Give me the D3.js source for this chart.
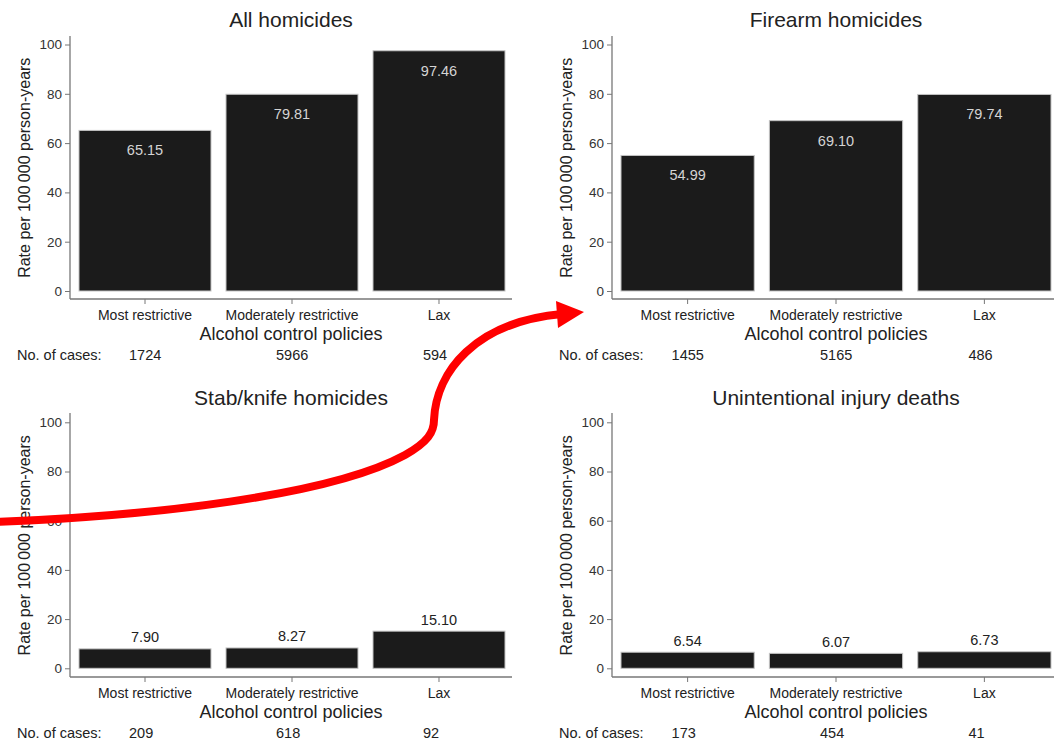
<!DOCTYPE html>
<html>
<head>
<meta charset="utf-8">
<script src="https://cdn.jsdelivr.net/npm/d3@7"></script>
<style>
  html, body { margin: 0; padding: 0; background: #fff; }
  svg { display: block; font-family: "Liberation Sans", Arial, sans-serif; }
</style>
</head>
<body>
<svg id="chart" width="1054" height="739"></svg>
<script>
// ---- data ----
const categories = ["Most restrictive", "Moderately restrictive", "Lax"];
const panelTitles = ["All homicides", "Firearm homicides", "Stab/knife homicides", "Unintentional injury deaths"];
const allHomicides = [65.15, 79.81, 97.46];
const firearmHomicides = [54.99, 69.10, 79.74];
const stabHomicides = [7.90, 8.27, 15.10];
const unintentionalDeaths = [6.54, 6.07, 6.73];
const casesAll = [1724, 5966, 594];
const casesFirearm = [1455, 5165, 486];
const casesStab = [209, 618, 92];
const casesUnintentional = [173, 454, 41];
const yTicks = [0, 20, 40, 60, 80, 100];
const yLabel = "Rate per 100\u2009000 person-years";
const xLabel = "Alcohol control policies";
const casesLabel = "No. of cases:";

const panels = [
  { title: panelTitles[0], values: allHomicides, cases: casesAll, col: 0, row: 0 },
  { title: panelTitles[1], values: firearmHomicides, cases: casesFirearm, col: 1, row: 0 },
  { title: panelTitles[2], values: stabHomicides, cases: casesStab, col: 0, row: 1 },
  { title: panelTitles[3], values: unintentionalDeaths, cases: casesUnintentional, col: 1, row: 1 }
];

// ---- layout ----
const colLayout = [
  { x0: 70, bandStart: 79, bandEnd: 505, axisEnd: 512 },
  { x0: 612, bandStart: 621, bandEnd: 1051, axisEnd: 1060 }
];
const rowLayout = [
  { yZero: 291, yTop: 44.5, xAxisY: 299, axisTop: 36 },
  { yZero: 668.3, yTop: 422.3, xAxisY: 677, axisTop: 413 }
];

const svg = d3.select("#chart");
const textColor = "#222";
const axisColor = "#777";
const fmt = d3.format(".2f");

panels.forEach(p => {
  const c = colLayout[p.col], r = rowLayout[p.row];
  const g = svg.append("g");
  const x = d3.scaleBand().domain(categories).range([c.bandStart, c.bandEnd]).paddingInner(0.102).paddingOuter(0);
  const y = d3.scaleLinear().domain([0, 100]).range([r.yZero, r.yTop]);

  // title
  g.append("text")
    .attr("x", (c.x0 + c.axisEnd) / 2).attr("y", r.yTop - 17.5)
    .attr("text-anchor", "middle").attr("font-size", 21).attr("fill", textColor)
    .text(p.title);

  // bars
  const data = categories.map((k, i) => ({ k, v: p.values[i], n: p.cases[i] }));
  g.selectAll("rect.bar").data(data).enter().append("rect")
    .attr("class", "bar")
    .attr("x", d => x(d.k)).attr("width", x.bandwidth())
    .attr("y", d => y(d.v)).attr("height", d => y(0) - y(d.v))
    .attr("fill", "#1b1b1b").attr("stroke", "#c4c4c4").attr("stroke-width", 1);

  // value labels
  g.selectAll("text.val").data(data).enter().append("text")
    .attr("class", "val")
    .attr("x", d => x(d.k) + x.bandwidth() / 2)
    .attr("y", d => d.v > 30 ? y(d.v) + 25 : y(d.v) - 6.5)
    .attr("text-anchor", "middle").attr("font-size", 14.5)
    .attr("fill", d => d.v > 30 ? "#d4d4d4" : textColor)
    .text(d => fmt(d.v));

  // y axis
  const yAxis = d3.axisLeft(y).tickValues(yTicks).tickSize(5).tickPadding(3);
  const ya = g.append("g").attr("transform", `translate(${c.x0},0)`).call(yAxis);
  ya.select(".domain").remove();
  ya.selectAll(".tick line").attr("stroke", axisColor);
  ya.selectAll(".tick text").attr("fill", "#333").attr("font-size", 13.5).attr("font-family", "Liberation Sans, Arial, sans-serif");
  g.append("line").attr("x1", c.x0).attr("x2", c.x0).attr("y1", r.axisTop).attr("y2", r.xAxisY)
    .attr("stroke", axisColor).attr("stroke-width", 1.3);

  // x axis
  const xAxis = d3.axisBottom(x).tickSize(5).tickPadding(6.5);
  const xa = g.append("g").attr("transform", `translate(0,${r.xAxisY})`).call(xAxis);
  xa.select(".domain").remove();
  xa.selectAll(".tick line").attr("stroke", axisColor);
  xa.selectAll(".tick text").attr("fill", textColor).attr("font-size", 14).attr("font-family", "Liberation Sans, Arial, sans-serif");
  g.append("line").attr("x1", c.x0).attr("x2", c.axisEnd).attr("y1", r.xAxisY).attr("y2", r.xAxisY)
    .attr("stroke", axisColor).attr("stroke-width", 1.3);

  // axis titles
  g.append("text")
    .attr("x", (c.x0 + c.axisEnd) / 2).attr("y", r.xAxisY + 41)
    .attr("text-anchor", "middle").attr("font-size", 18).attr("fill", textColor)
    .text(xLabel);
  g.append("text")
    .attr("transform", `translate(${c.x0 - 40},${(r.yZero + r.yTop) / 2}) rotate(-90)`)
    .attr("text-anchor", "middle").attr("font-size", 16).attr("fill", textColor)
    .text(yLabel);

  // cases row
  g.append("text")
    .attr("x", c.x0 - 53).attr("y", r.xAxisY + 60.5)
    .attr("font-size", 14.5).attr("fill", textColor).text(casesLabel);
  g.selectAll("text.cases").data(data).enter().append("text")
    .attr("class", "cases")
    .attr("x", d => x(d.k) + x.bandwidth() / 2 - 16)
    .attr("y", r.xAxisY + 60.5)
    .attr("font-size", 14.5).attr("fill", textColor)
    .text(d => d.n);
});

// red annotation arrow
svg.append("path")
  .attr("d", "M -5 522 C 150 516, 330 496, 405 455 C 428 442, 434 432, 434 420 C 436 372, 475 322, 562 314")
  .attr("fill", "none").attr("stroke", "#ff0000").attr("stroke-width", 8);
svg.append("polygon")
  .attr("points", "556,301 584,312 558,328")
  .attr("fill", "#ff0000");
</script>
</body>
</html>
